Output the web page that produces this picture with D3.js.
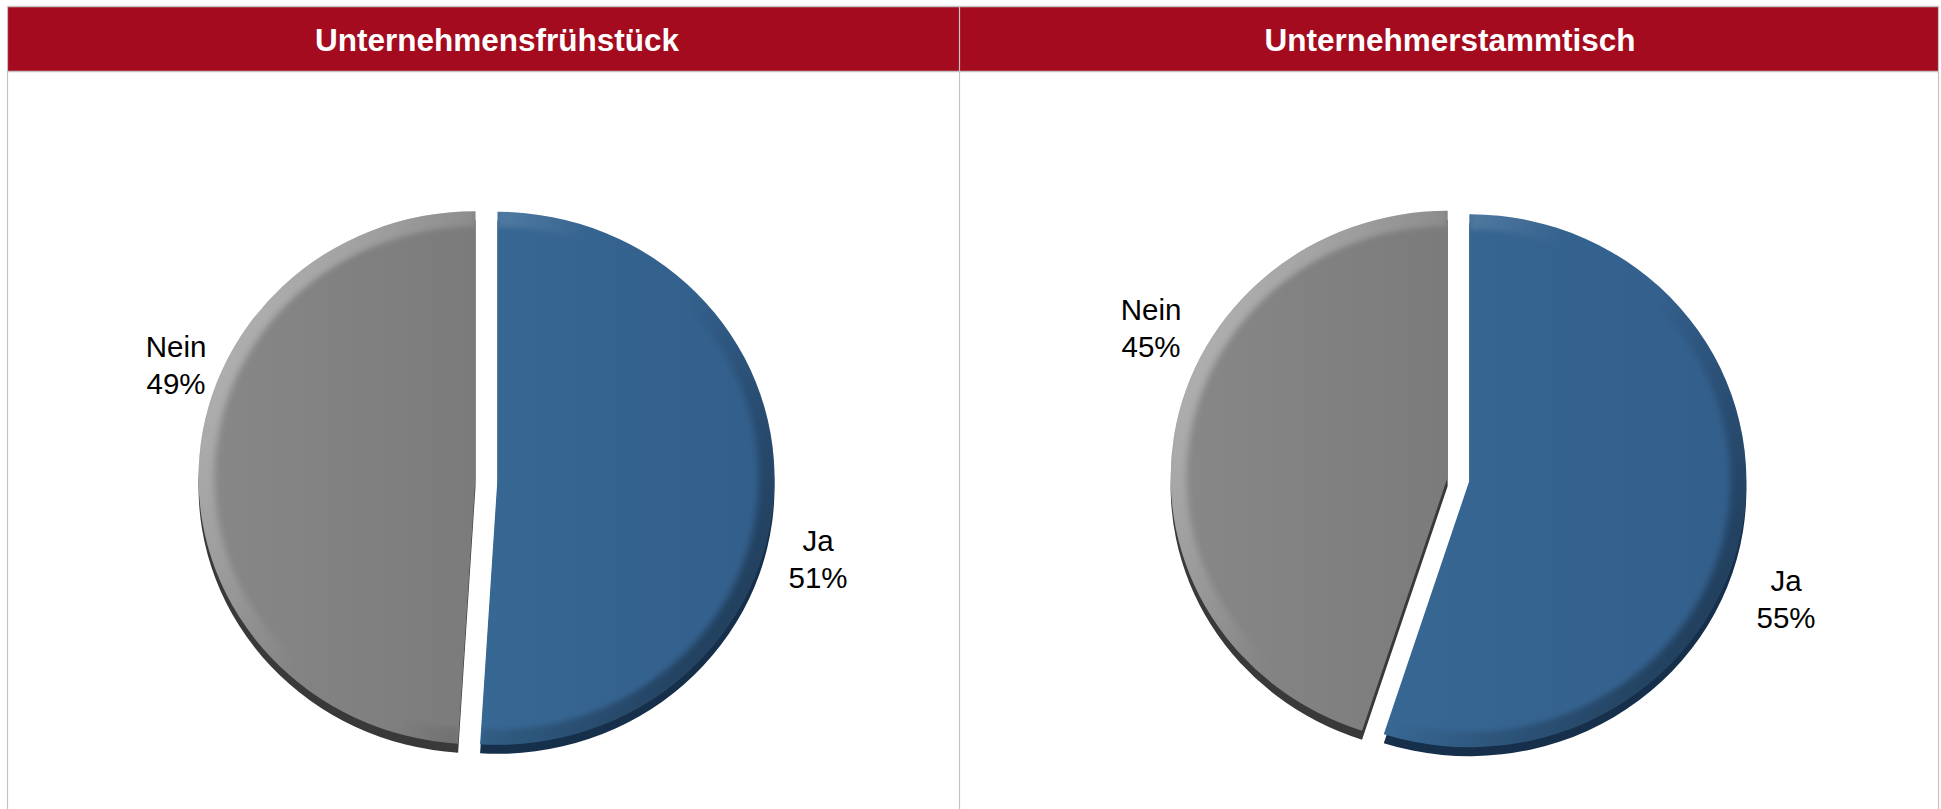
<!DOCTYPE html>
<html>
<head>
<meta charset="utf-8">
<script src="https://cdn.jsdelivr.net/npm/d3@7"></script>
<style>
  html, body { margin: 0; padding: 0; background: #ffffff; }
  svg { display: block; }
  text { font-family: "Liberation Sans", Arial, sans-serif; }
</style>
</head>
<body>
<svg id="chart" width="1941" height="809"></svg>
<script>
// Survey answers per event format
const panelTitles = ["Unternehmensfrühstück", "Unternehmerstammtisch"];
const categories = ["Ja", "Nein"];
const valuesFruehstueck = [51, 49];
const valuesStammtisch = [55, 45];
const seriesValues = [valuesFruehstueck, valuesStammtisch];

// Layout (positions in px)
const W = 1941, H = 809;
const frame = { left: 7.5, mid: 959.5, right: 1938.5, top: 6.5, headBottom: 71.5 };
const headerTextX = [497, 1450];
const pieCenters = [[486.5, 478], [1458.5, 479]];
const rx = 277, ry = 266.5, depth = 9, explode = 11;
// label block centres relative to the pie centre, per category
const labelOffsets = [
  { Ja: [331.5, 82], Nein: [-310.5, -112] },
  { Ja: [327.5, 121], Nein: [-307.5, -150] }
];

const colors = d3.scaleOrdinal().domain(categories).range(["#35628f", "#808080"]);
const sideColors = d3.scaleOrdinal().domain(categories).range(["#162f4a", "#393939"]);
const bodyLight = d3.scaleOrdinal().domain(categories).range(["#376793", "#888888"]);
const bodyDark = d3.scaleOrdinal().domain(categories).range(["#325e8b", "#7b7b7b"]);

const svg = d3.select("#chart");
const defs = svg.append("defs");

// soft bevel: light from the upper left, shade to the lower right
const bevel = defs.append("linearGradient")
  .attr("id", "bevel").attr("gradientUnits", "userSpaceOnUse")
  .attr("x1", -rx).attr("y1", -rx * 0.6).attr("x2", rx).attr("y2", rx * 0.6);
bevel.append("stop").attr("offset", 0).attr("stop-color", "#ffffff").attr("stop-opacity", 0.4);
bevel.append("stop").attr("offset", 0.42).attr("stop-color", "#ffffff").attr("stop-opacity", 0.0);
bevel.append("stop").attr("offset", 0.6).attr("stop-color", "#000000").attr("stop-opacity", 0.0);
bevel.append("stop").attr("offset", 1).attr("stop-color", "#000000").attr("stop-opacity", 0.4);

defs.append("filter").attr("id", "soft").attr("x", "-20%").attr("y", "-20%").attr("width", "140%").attr("height", "140%")
  .append("feGaussianBlur").attr("stdDeviation", 3);

categories.forEach(c => {
  const g = defs.append("linearGradient").attr("id", "body-" + c)
    .attr("x1", 0).attr("y1", 0).attr("x2", 1).attr("y2", 0);
  g.append("stop").attr("offset", 0).attr("stop-color", bodyLight(c));
  g.append("stop").attr("offset", 1).attr("stop-color", bodyDark(c));
});

// header band
svg.append("rect")
  .attr("x", frame.left).attr("y", frame.top)
  .attr("width", frame.right - frame.left).attr("height", frame.headBottom - frame.top)
  .attr("fill", "#a50b1e");

// frame lines
const lineColor = "#c4c4c4";
[frame.left, frame.mid, frame.right].forEach(x => {
  svg.append("line").attr("x1", x).attr("x2", x).attr("y1", frame.top).attr("y2", H)
    .attr("stroke", lineColor).attr("stroke-width", 1.2);
});
[frame.top, frame.headBottom].forEach(y => {
  svg.append("line").attr("x1", frame.left).attr("x2", frame.right).attr("y1", y).attr("y2", y)
    .attr("stroke", lineColor).attr("stroke-width", 1.5);
});

// header titles
panelTitles.forEach((t, i) => {
  svg.append("text")
    .attr("x", headerTextX[i]).attr("y", 51)
    .attr("text-anchor", "middle")
    .attr("fill", "#ffffff")
    .attr("font-weight", "bold")
    .attr("font-size", 31.5)
    .text(t);
});

const pie = d3.pie().sort(null).value(d => d.value);
const arc = d3.arc().innerRadius(0).outerRadius(rx);
const rim = d3.arc().innerRadius(rx - 16).outerRadius(rx + 4);
const pct = d3.format(".0%");

seriesValues.forEach((vals, pi) => {
  const data = categories.map((c, k) => ({ category: c, value: vals[k] }));
  const total = d3.sum(vals);
  const arcs = pie(data);
  const [cx, cy] = pieCenters[pi];

  const g = svg.append("g").attr("transform", `translate(${cx},${cy})`);
  const flat = g.append("g").attr("transform", `scale(1,${ry / rx})`);
  const k = rx / ry;

  const shift = d => {
    const mid = (d.startAngle + d.endAngle) / 2;
    return [explode * Math.sin(mid), -explode * Math.cos(mid) * k];
  };

  // side walls (drawn below the top faces)
  flat.selectAll("path.side").data(arcs).join("path")
    .attr("class", "side")
    .attr("transform", d => { const [dx, dy] = shift(d); return `translate(${dx},${dy + depth * k})`; })
    .attr("d", arc)
    .attr("fill", d => sideColors(d.data.category));

  const slices = flat.selectAll("g.slice").data(arcs).join("g")
    .attr("class", "slice")
    .attr("transform", d => { const [dx, dy] = shift(d); return `translate(${dx},${dy})`; });

  slices.each(function (d, j) {
    const id = `clip-${pi}-${j}`;
    defs.append("clipPath").attr("id", id).append("path").attr("d", arc(d));
    const s = d3.select(this);
    s.append("path").attr("d", arc(d)).attr("fill", `url(#body-${d.data.category})`);
    s.append("g").attr("clip-path", `url(#${id})`)
      .append("path").attr("d", rim(d))
      .attr("fill", "url(#bevel)")
      .attr("filter", "url(#soft)");
  });

  // data labels: category and share
  arcs.forEach(d => {
    const [ox, oy] = labelOffsets[pi][d.data.category];
    const t = g.append("text")
      .attr("text-anchor", "middle")
      .attr("font-size", 29.5)
      .attr("fill", "#000000");
    t.append("tspan").attr("x", ox).attr("y", oy - 9).text(d.data.category);
    t.append("tspan").attr("x", ox).attr("y", oy + 28).text(pct(d.data.value / total));
  });
});
</script>
</body>
</html>
